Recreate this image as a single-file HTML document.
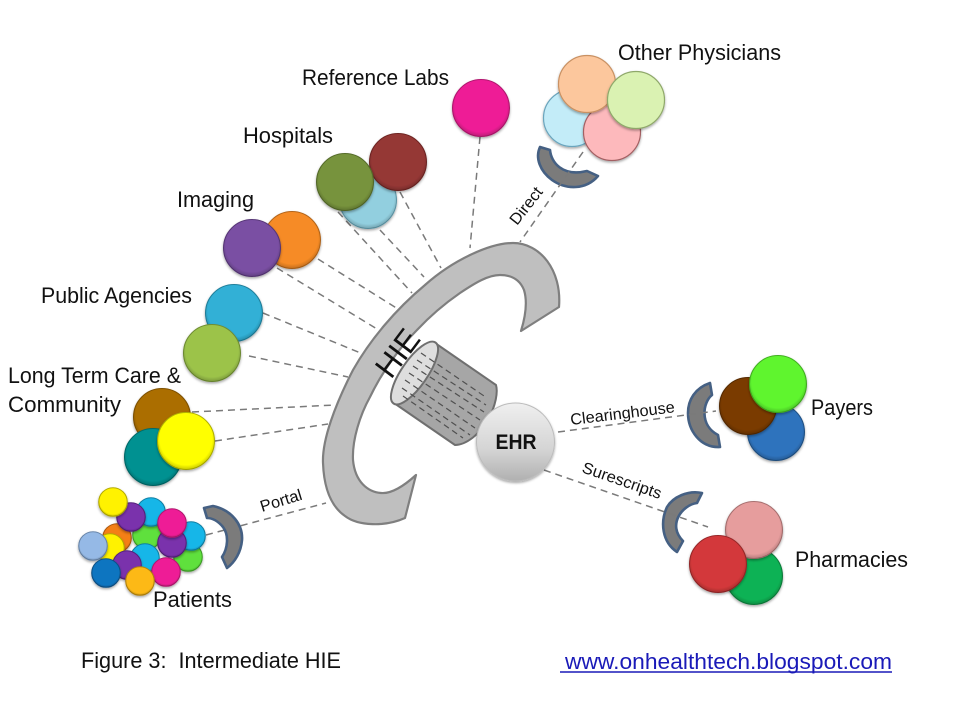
<!DOCTYPE html>
<html><head><meta charset="utf-8"><style>
html,body{margin:0;padding:0;background:#fff}
svg{display:block}
text{font-family:"Liberation Sans",sans-serif;fill:#111}
.l{font-size:22px}
.s{font-size:16px}
.d{stroke:#7a7a7a;stroke-width:1.5;stroke-dasharray:7 5;fill:none}
.c{stroke:#505050;stroke-width:1.2;stroke-dasharray:6 4;fill:none}
.b{fill:#7b7b7b;stroke:#456083;stroke-width:2.6;stroke-linejoin:round}
.o{fill:url(#sh)}
.k{filter:url(#ds)}
</style></head><body>
<svg width="960" height="720" viewBox="0 0 960 720" xmlns="http://www.w3.org/2000/svg">
<defs>
<radialGradient id="sh" cx=".5" cy=".46" r=".56">
<stop offset="0" stop-color="#000" stop-opacity="0"/>
<stop offset=".82" stop-color="#000" stop-opacity="0"/>
<stop offset="1" stop-color="#000" stop-opacity=".26"/>
</radialGradient>
<linearGradient id="eh" x1="0" y1="0" x2="0" y2="1">
<stop offset="0" stop-color="#efefef"/>
<stop offset=".6" stop-color="#d4d4d4"/>
<stop offset="1" stop-color="#b0b0b0"/>
</linearGradient>
<filter id="ds" x="-20%" y="-20%" width="140%" height="140%">
<feDropShadow dx="0" dy="1.5" stdDeviation="1.2" flood-color="#000" flood-opacity=".35"/>
</filter>
</defs>

<!-- Brackets (under lines) -->
<path class="b" d="M540,147 L550,150 C551,162 562,177 587,171 L598,176 C586,190 566,190 552,180 C540,171 535,158 540,147 Z"/>
<path class="b" d="M710,383 L712,395 C703,402 699,425 718,435 L720,447 C700,448 688,430 688,413 C688,400 695,388 710,383 Z"/>
<path class="b" d="M702,493 L697,503 C682,505 667,525 683,541 L677,552 C662,542 660,522 667,507 C673,497 688,490 702,493 Z"/>

<line class="d" x1="480" y1="137" x2="470" y2="248"/>
<line class="d" x1="583" y1="152" x2="520" y2="242"/>
<line class="d" x1="400" y1="192" x2="441" y2="268"/>
<line class="d" x1="380" y1="230" x2="424" y2="277"/>
<line class="d" x1="338" y1="212" x2="412" y2="293"/>
<line class="d" x1="318" y1="259" x2="398" y2="309"/>
<line class="d" x1="277" y1="268" x2="377" y2="329"/>
<line class="d" x1="263" y1="313" x2="363" y2="354"/>
<line class="d" x1="249" y1="356" x2="348" y2="377"/>
<line class="d" x1="192" y1="412" x2="335" y2="405"/>
<line class="d" x1="215" y1="441" x2="328" y2="424"/>
<line class="d" x1="206" y1="535" x2="326" y2="503"/>
<line class="d" x1="558" y1="432" x2="716" y2="411"/>
<line class="d" x1="544" y1="470" x2="708" y2="527"/>

<!-- Portal bracket (over line) -->
<path class="b" d="M204,508 L213,506 C232,510 243,525 242,540 C241,552 235,562 227,568 L222,557 C228,548 229,535 223,527 C218,521 212,518 207,518 Z"/>

<!-- HIE crescent -->
<path d="M559,307 C562,270 540,243 513,243 C490,243 453,260 425,285 C395,310 370,340 353,370 C335,405 322,440 323,463 C324,490 332,507 345,516 C358,526 385,527 405,518 L416,475 C405,485 392,494 381,493 C368,492 355,482 353,460 C352,440 360,415 370,397 C382,372 400,347 417,330 C432,314 447,302 460,293 C475,283 488,275 500,275 C512,275 520,280 524,290 C528,303 525,318 521,331 Z" fill="#bfbfbf" stroke="#7f7f7f" stroke-width="2.2" stroke-linejoin="round"/>

<!-- cylinder -->
<path d="M435,343 L496,385 C498,392 496,405 488,420 C480,434 466,445 455,445 L394,403 Z" fill="#a6a6a6" stroke="#6f6f6f" stroke-width="2" stroke-linejoin="round"/>
<ellipse cx="414.5" cy="373" rx="13" ry="37" transform="rotate(34.5 414.5 373)" fill="#dedede" stroke="#6f6f6f" stroke-width="2"/>
<line class="c" x1="421" y1="353" x2="487" y2="398"/>
<line class="c" x1="417" y1="360" x2="486" y2="405"/>
<line class="c" x1="413" y1="366" x2="484" y2="412"/>
<line class="c" x1="409" y1="373" x2="480" y2="420"/>
<line class="c" x1="405" y1="380" x2="475" y2="428"/>
<line class="c" x1="402" y1="388" x2="470" y2="435"/>
<line class="c" x1="403" y1="396" x2="463" y2="438"/>

<!-- EHR -->
<circle class="k" cx="515.5" cy="442" r="39" fill="url(#eh)" stroke="#bcbcbc" stroke-width="1"/>
<text x="516" y="449" text-anchor="middle" font-size="21" font-weight="bold" textLength="41" lengthAdjust="spacingAndGlyphs">EHR</text>

<!-- Reference Labs -->
<g class="k"><circle cx="481" cy="108" r="28.5" fill="#ee1f96" stroke="#b3166f"/><circle class="o" cx="481" cy="108" r="28.5"/></g>

<!-- Other Physicians -->
<circle class="k" cx="572" cy="118" r="28.5" fill="#c3ecf8" stroke="#6ba5bd" stroke-width="1.2"/>
<circle class="k" cx="612" cy="132" r="28.5" fill="#fdb9bc" stroke="#a36063" stroke-width="1.2"/>
<circle class="k" cx="587" cy="84" r="28.5" fill="#fcc79d" stroke="#c99163" stroke-width="1.2"/>
<circle class="k" cx="636" cy="100" r="28.5" fill="#daf2b2" stroke="#8fa86a" stroke-width="1.2"/>

<!-- Hospitals -->
<g class="k"><circle cx="368" cy="200" r="28.5" fill="#92cfdf" stroke="#5f9aab"/><circle class="o" cx="368" cy="200" r="28.5"/></g>
<g class="k"><circle cx="398" cy="162" r="28.5" fill="#953735" stroke="#6f2523"/><circle class="o" cx="398" cy="162" r="28.5"/></g>
<g class="k"><circle cx="345" cy="182" r="28.5" fill="#77933c" stroke="#566c2a"/><circle class="o" cx="345" cy="182" r="28.5"/></g>

<!-- Imaging -->
<g class="k"><circle cx="292" cy="240" r="28.5" fill="#f68b25" stroke="#b4651a"/><circle class="o" cx="292" cy="240" r="28.5"/></g>
<g class="k"><circle cx="252" cy="248" r="28.5" fill="#7a4fa3" stroke="#583778"/><circle class="o" cx="252" cy="248" r="28.5"/></g>

<!-- Public Agencies -->
<g class="k"><circle cx="234" cy="313" r="28.5" fill="#30b0d6" stroke="#21809c"/><circle class="o" cx="234" cy="313" r="28.5"/></g>
<g class="k"><circle cx="212" cy="353" r="28.5" fill="#9cc34a" stroke="#708e33"/><circle class="o" cx="212" cy="353" r="28.5"/></g>

<!-- LTC -->
<g class="k"><circle cx="162" cy="417" r="28.5" fill="#ab6e06" stroke="#7f5104"/><circle class="o" cx="162" cy="417" r="28.5"/></g>
<g class="k"><circle cx="153" cy="457" r="28.5" fill="#049191" stroke="#036a6a"/><circle class="o" cx="153" cy="457" r="28.5"/></g>
<g class="k"><circle cx="186" cy="441" r="28.5" fill="#ffff00" stroke="#b3b300"/><circle class="o" cx="186" cy="441" r="28.5"/></g>

<!-- Patients -->
<g class="k"><circle cx="117" cy="538" r="14.3" fill="#f47f17" stroke="#ae5a10"/><circle class="o" cx="117" cy="538" r="14.3"/></g>
<g class="k"><circle cx="110" cy="548" r="14.3" fill="#fff200" stroke="#b5ac00"/><circle class="o" cx="110" cy="548" r="14.3"/></g>
<g class="k"><circle cx="93" cy="546" r="14.3" fill="#95b9e6" stroke="#6a87ab"/><circle class="o" cx="93" cy="546" r="14.3"/></g>
<g class="k"><circle cx="147" cy="535" r="14.3" fill="#5ee03c" stroke="#3fa027"/><circle class="o" cx="147" cy="535" r="14.3"/></g>
<g class="k"><circle cx="151" cy="512" r="14.3" fill="#18b6e8" stroke="#1080a5"/><circle class="o" cx="151" cy="512" r="14.3"/></g>
<g class="k"><circle cx="131" cy="517" r="14.3" fill="#7a30ac" stroke="#56217a"/><circle class="o" cx="131" cy="517" r="14.3"/></g>
<g class="k"><circle cx="113" cy="502" r="14.3" fill="#fff200" stroke="#b5ac00"/><circle class="o" cx="113" cy="502" r="14.3"/></g>
<g class="k"><circle cx="188" cy="557" r="14.3" fill="#5ee03c" stroke="#3fa027"/><circle class="o" cx="188" cy="557" r="14.3"/></g>
<g class="k"><circle cx="191" cy="536" r="14.3" fill="#18b6e8" stroke="#1080a5"/><circle class="o" cx="191" cy="536" r="14.3"/></g>
<g class="k"><circle cx="172" cy="543" r="14.3" fill="#7a30ac" stroke="#56217a"/><circle class="o" cx="172" cy="543" r="14.3"/></g>
<g class="k"><circle cx="172" cy="523" r="14.3" fill="#ee1f96" stroke="#b3166f"/><circle class="o" cx="172" cy="523" r="14.3"/></g>
<g class="k"><circle cx="145" cy="558" r="14.3" fill="#18b6e8" stroke="#1080a5"/><circle class="o" cx="145" cy="558" r="14.3"/></g>
<g class="k"><circle cx="166" cy="572" r="14.3" fill="#ee1f96" stroke="#b3166f"/><circle class="o" cx="166" cy="572" r="14.3"/></g>
<g class="k"><circle cx="127" cy="565" r="14.3" fill="#7a30ac" stroke="#56217a"/><circle class="o" cx="127" cy="565" r="14.3"/></g>
<g class="k"><circle cx="106" cy="573" r="14.3" fill="#0f74c0" stroke="#0a5288"/><circle class="o" cx="106" cy="573" r="14.3"/></g>
<g class="k"><circle cx="140" cy="581" r="14.3" fill="#fdb913" stroke="#b5840d"/><circle class="o" cx="140" cy="581" r="14.3"/></g>

<!-- Payers -->
<g class="k"><circle cx="776" cy="432" r="28.5" fill="#2f73bd" stroke="#215387"/><circle class="o" cx="776" cy="432" r="28.5"/></g>
<g class="k"><circle cx="748" cy="406" r="28.5" fill="#7a3b06" stroke="#562a04"/><circle class="o" cx="748" cy="406" r="28.5"/></g>
<g class="k"><circle cx="778" cy="384" r="28.5" fill="#5ef52f" stroke="#43b021"/><circle class="o" cx="778" cy="384" r="28.5"/></g>

<!-- Pharmacies -->
<g class="k"><circle cx="754" cy="576" r="28.5" fill="#0fb254" stroke="#0a7f3c"/><circle class="o" cx="754" cy="576" r="28.5"/></g>
<g class="k"><circle cx="754" cy="530" r="28.5" fill="#e69d9d" stroke="#a87070"/><circle class="o" cx="754" cy="530" r="28.5"/></g>
<g class="k"><circle cx="718" cy="564" r="28.5" fill="#d3393a" stroke="#982829"/><circle class="o" cx="718" cy="564" r="28.5"/></g>

<!-- Labels -->
<text class="l" x="618" y="60" textLength="163" lengthAdjust="spacingAndGlyphs">Other Physicians</text>
<text class="l" x="302" y="85" textLength="147" lengthAdjust="spacingAndGlyphs">Reference Labs</text>
<text class="l" x="243" y="143" textLength="90" lengthAdjust="spacingAndGlyphs">Hospitals</text>
<text class="l" x="177" y="207" textLength="77" lengthAdjust="spacingAndGlyphs">Imaging</text>
<text class="l" x="41" y="303" textLength="151" lengthAdjust="spacingAndGlyphs">Public Agencies</text>
<text class="l" x="8" y="383" textLength="173" lengthAdjust="spacingAndGlyphs">Long Term Care &amp;</text>
<text class="l" x="8" y="412" textLength="113" lengthAdjust="spacingAndGlyphs">Community</text>
<text class="l" x="153" y="607" textLength="79" lengthAdjust="spacingAndGlyphs">Patients</text>
<text class="l" x="811" y="415" textLength="62" lengthAdjust="spacingAndGlyphs">Payers</text>
<text class="l" x="795" y="567" textLength="113" lengthAdjust="spacingAndGlyphs">Pharmacies</text>
<text class="l" x="81" y="668" textLength="260" lengthAdjust="spacingAndGlyphs" xml:space="preserve">Figure 3:  Intermediate HIE</text>
<text class="l" x="565" y="669" textLength="327" lengthAdjust="spacingAndGlyphs" style="fill:#1a1ab8">www.onhealthtech.blogspot.com</text>
<line x1="560" y1="672" x2="892" y2="672" stroke="#1a1ab8" stroke-width="1.4"/>

<text class="s" transform="translate(262,512) rotate(-17)" textLength="43" lengthAdjust="spacingAndGlyphs">Portal</text>
<text class="s" transform="translate(517,226) rotate(-52)" textLength="43" lengthAdjust="spacingAndGlyphs">Direct</text>
<text class="s" transform="translate(571,425) rotate(-7)" textLength="105" lengthAdjust="spacingAndGlyphs">Clearinghouse</text>
<text class="s" transform="translate(581,472) rotate(19)" textLength="83" lengthAdjust="spacingAndGlyphs">Surescripts</text>
<text transform="translate(391,380) rotate(-53)" font-size="32" textLength="51" lengthAdjust="spacingAndGlyphs">HIE</text>
</svg>
</body></html>
